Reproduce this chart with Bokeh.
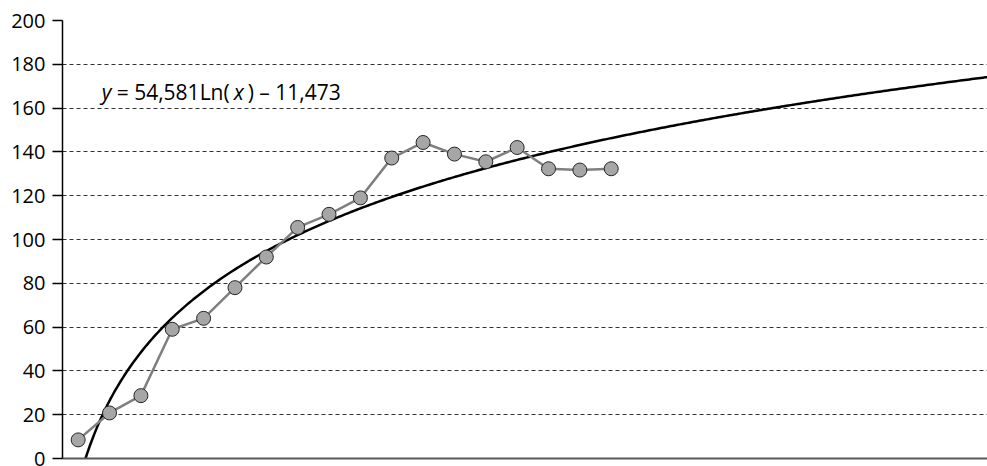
import math
from bokeh.plotting import figure
from bokeh.models import Range1d, FixedTicker, Label
from bokeh.embed import file_html
from bokeh.resources import INLINE

# Data
x_vals = list(range(1, 19))
y_vals = [8.5, 20.8, 28.7, 59.0, 64.0, 78.0, 92.0, 105.5, 111.5, 119.0,
          137.2, 144.3, 139.0, 135.5, 142.0, 132.3, 131.7, 132.3]
y_ticks = [0, 20, 40, 60, 80, 100, 120, 140, 160, 180, 200]

# Logarithmic trend line coefficients (as printed on the chart)
trend_a = 54.581
trend_b = -11.473
trend_x_end = 30.0

FONT = "Open Sans"

p = figure(width=987, height=466, output_backend="svg", toolbar_location=None,
           x_range=Range1d(0.5, 30.0), y_range=Range1d(0, 200),
           min_border_left=62, min_border_right=0, min_border_top=20,
           min_border_bottom=8)
p.outline_line_color = None
p.background_fill_color = "white"
p.border_fill_color = "white"

# y axis
p.yaxis.ticker = FixedTicker(ticks=y_ticks)
p.yaxis.axis_line_color = "black"
p.yaxis.axis_line_width = 1.5
p.yaxis.major_tick_line_color = "black"
p.yaxis.major_tick_line_width = 1.5
p.yaxis.major_tick_out = 10
p.yaxis.major_tick_in = 0
p.yaxis.minor_tick_line_color = None
p.yaxis.major_label_standoff = 7
p.yaxis.major_label_text_font = FONT
p.yaxis.major_label_text_font_size = "20px"
p.yaxis.major_label_text_color = "black"

# x axis: line only
p.xaxis.ticker = FixedTicker(ticks=[])
p.xaxis.major_label_text_font_size = "0px"
p.xaxis.major_tick_line_color = None
p.xaxis.minor_tick_line_color = None
p.xaxis.axis_line_color = "#595959"
p.xaxis.axis_line_width = 2

# grid
p.xgrid.grid_line_color = None
p.ygrid.grid_line_color = "#333333"
p.ygrid.grid_line_dash = "4 3"
p.ygrid.grid_line_width = 1

# trend line
x0 = math.exp(-trend_b / trend_a)
n = 400
tx = [x0 + (trend_x_end - x0) * i / (n - 1) for i in range(n)]
ty = [trend_a * math.log(v) + trend_b for v in tx]
p.line(tx, ty, line_color="black", line_width=2.5)

# data series
p.line(x_vals, y_vals, line_color="#7f7f7f", line_width=2.5)
p.scatter(x_vals, y_vals, size=14, fill_color="#a6a6a6", line_color="#262626",
          line_width=1)

# equation label, pieces for italic variables
eq_x, eq_y = 1.75, 167.5
pieces = [("y", "italic", 0), ("= 54,581Ln(", "normal", 15),
          ("x", "italic", 132), (") – 11,473", "normal", 146)]
for txt, style, off in pieces:
    p.add_layout(Label(x=eq_x, y=eq_y, text=txt, x_offset=off,
                       text_font=FONT, text_font_style=style,
                       text_font_size="21px", text_color="black",
                       text_baseline="alphabetic", text_align="left"))

open("out.html", "w").write(file_html(p, INLINE))
